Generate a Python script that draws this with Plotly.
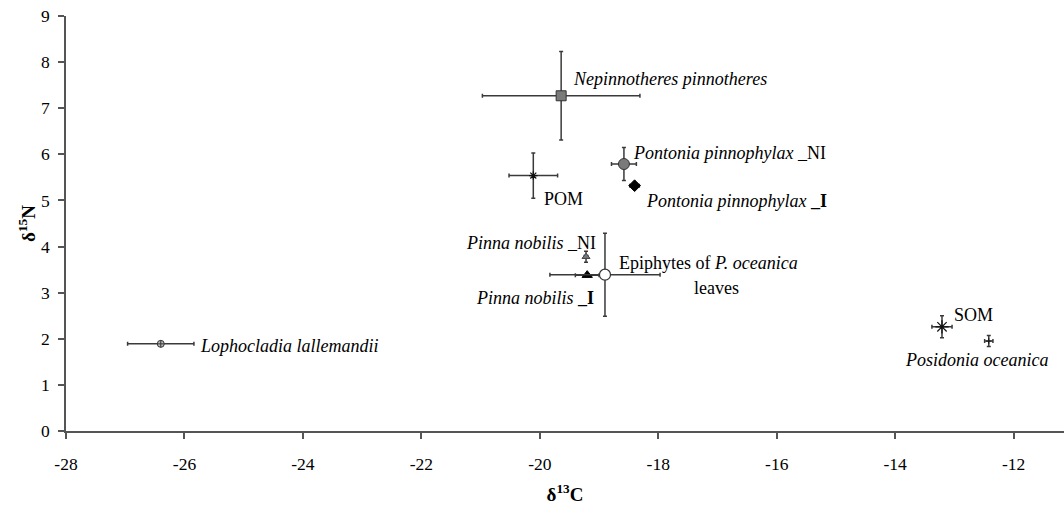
import plotly.graph_objects as go

# ---- data ----
groups = ["Nepinnotheres pinnotheres", "POM", "Pontonia pinnophylax _NI",
          "Pontonia pinnophylax _I", "Pinna nobilis _NI", "Pinna nobilis _I",
          "Epiphytes of P. oceanica leaves", "Lophocladia lallemandii",
          "SOM", "Posidonia oceanica"]
d13C = [-19.64, -20.11, -18.58, -18.40, -19.22, -19.20, -18.90, -26.40, -13.21, -12.42]
d15N = [7.27, 5.54, 5.79, 5.32, 3.78, 3.38, 3.39, 1.89, 2.26, 1.95]
d13C_sd = [1.33, 0.41, 0.21, 0.08, 0.03, 0.20, 0.93, 0.56, 0.17, 0.07]
d15N_sd = [0.96, 0.49, 0.36, 0.06, 0.12, 0.03, 0.90, 0.03, 0.24, 0.12]
x_ticks = [-28, -26, -24, -22, -20, -18, -16, -14, -12]
y_ticks = [0, 1, 2, 3, 4, 5, 6, 7, 8, 9]

# ---- styles ----
FONT = "Liberation Serif, Times New Roman, serif"
ERR = "#3a3a3a"
styles = [
    dict(symbol="square", size=10, color="#7a7a7a", line=dict(color="#333", width=1)),
    dict(symbol="asterisk-open", size=7, color="#111", line=dict(color="#111", width=1.2)),
    dict(symbol="circle", size=11, color="#7a7a7a", line=dict(color="#333", width=1)),
    dict(symbol="diamond", size=9, color="#000", line=dict(color="#000", width=1)),
    dict(symbol="triangle-up", size=7, color="#777", line=dict(color="#444", width=1)),
    dict(symbol="triangle-up", size=9, color="#000", line=dict(color="#000", width=1)),
    dict(symbol="circle", size=11, color="#fff", line=dict(color="#333", width=1.2)),
    dict(symbol="circle-cross", size=7, color="#bbb", line=dict(color="#333", width=1)),
    dict(symbol="asterisk-open", size=11, color="#111", line=dict(color="#111", width=1.2)),
    dict(symbol="cross-thin-open", size=4, color="#111", line=dict(color="#111", width=1)),
]

fig = go.Figure()
for i, name in enumerate(groups):
    fig.add_trace(go.Scatter(
        x=[d13C[i]], y=[d15N[i]], mode="markers", name=name,
        marker=styles[i],
        error_x=dict(type="data", array=[d13C_sd[i]], color=ERR, thickness=1.5, width=2),
        error_y=dict(type="data", array=[d15N_sd[i]], color=ERR, thickness=1.5, width=2),
        showlegend=False,
    ))

# ---- labels ----
labels = [
    (0, "<i>Nepinnotheres pinnotheres</i>", "left", 10, 17),
    (1, "POM", "left", 9, -23),
    (2, "<i>Pontonia pinnophylax</i> _NI", "left", 7, 11),
    (3, "<i>Pontonia pinnophylax</i> <b>_I</b>", "left", 9, -15),
    (4, "<i>Pinna nobilis</i> _NI", "right", 12, 14),
    (5, "<i>Pinna nobilis</i> <b>_I</b>", "right", 9, -23),
    (6, "Epiphytes of <i>P. oceanica</i>", "left", 12, 12),
    (6, "leaves", "left", 87, -13),
    (7, "<i>Lophocladia lallemandii</i>", "left", 37, -2),
    (8, "SOM", "left", 10, 12),
    (9, "<i>Posidonia oceanica</i>", "center", -12, -19),
]
for idx, txt, anchor, dx, dy in labels:
    fig.add_annotation(x=d13C[idx], y=d15N[idx], xref="x", yref="y", text=txt,
                       showarrow=False, xanchor=anchor, yanchor="middle",
                       xshift=dx, yshift=dy,
                       font=dict(family=FONT, size=18, color="#000"))

axis_common = dict(showgrid=False, zeroline=False, showline=True, linecolor="#555",
                   linewidth=1.5, ticks="outside", ticklen=6, tickcolor="#555",
                   tickwidth=1.5, automargin=False,
                   tickfont=dict(family=FONT, size=17.5, color="#000"))

fig.update_layout(
    width=1064, height=505,
    margin=dict(l=66, r=0, t=16, b=74),
    paper_bgcolor="white", plot_bgcolor="white",
    font=dict(family=FONT),
    xaxis=dict(range=[-28, -11.15], tickvals=x_ticks, ticktext=[str(v) for v in x_ticks],
               ticklabelstandoff=10,
               title=dict(text="<b>δ<sup>13</sup>C</b>", font=dict(family=FONT, size=19, color="#000"),
                          standoff=16),
               **axis_common),
    yaxis=dict(range=[0, 9], tickvals=y_ticks, ticktext=[str(v) for v in y_ticks],
               ticklabelstandoff=5,
               title=dict(text="<b>δ<sup>15</sup>N</b>", font=dict(family=FONT, size=19, color="#000"),
                          standoff=0),
               **axis_common),
)

fig.write_html("out.html", config={"displayModeBar": False},
               post_script="document.body.style.margin='0px';")
